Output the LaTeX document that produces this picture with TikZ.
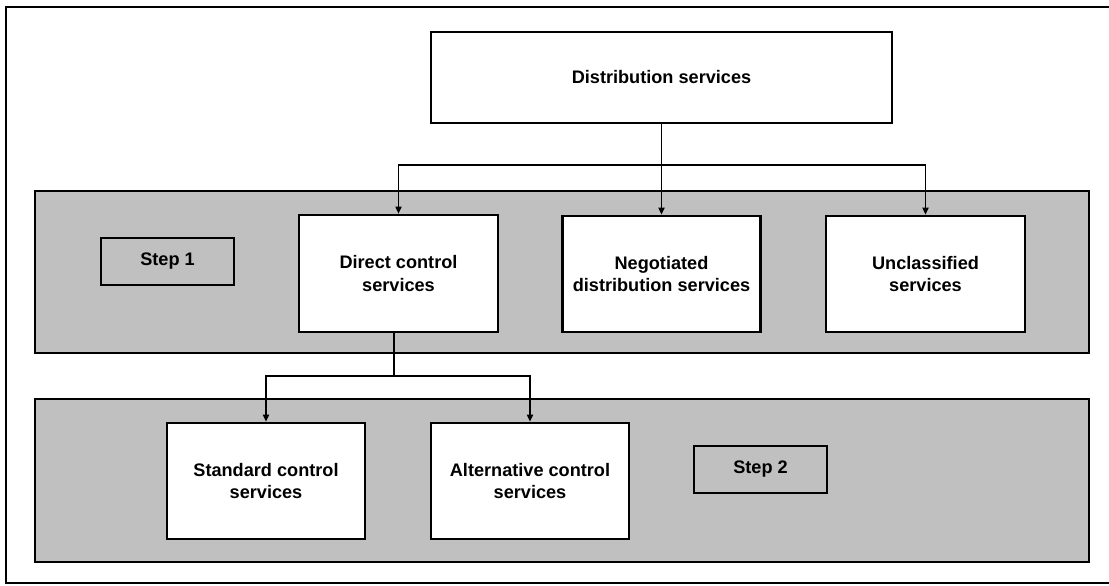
\documentclass[tikz,border=0pt]{standalone}
\usepackage{fontspec}
\setmainfont{Liberation Sans}
\usetikzlibrary{arrows.meta}
\definecolor{panelgray}{HTML}{C0C0C0}

\tikzset{
  box/.style={draw, fill=white, line width=2pt, align=center, inner sep=0pt,
    font=\fontsize{12.9}{16.3}\selectfont\bfseries},
  stepbox/.style={box, fill=panelgray, minimum width=3.325cm, minimum height=1.175cm},
  panel/.style={draw, fill=panelgray, line width=1.4pt},
  link/.style={line width=0.8pt},
  arr/.style={link, -{Triangle[length=5pt,width=4.5pt]}}
}

\begin{document}
\begin{tikzpicture}[x=0.025cm, y=-0.025cm]
  \useasboundingbox (0,0) rectangle (1109,585);
  % frame and grey panels
  \draw[line width=2pt] (1109,7) -- (6,7) -- (6,583) -- (1109,583);
  \draw[panel] (35,191) rectangle (1089,353);
  \draw[panel] (35,399) rectangle (1089,562);

  \node[box, minimum width=11.525cm, minimum height=2.275cm] (dist) at (661.5,77.5) {Distribution services};

  \node[stepbox] (step1) at (167.5,261.5) {Step 1};
  \node[box, minimum width=4.975cm, minimum height=2.925cm] (direct) at (398.5,273.5) {Direct control\\services};
  \node[box, minimum width=4.95cm, minimum height=2.9cm] (negot) at (661.5,274) {Negotiated\\distribution services};
  \node[box, minimum width=4.975cm, minimum height=2.9cm] (unclass) at (925.5,274) {Unclassified\\services};

  \node[box, minimum width=4.95cm, minimum height=2.9cm] (standard) at (266,481) {Standard control\\services};
  \node[box, minimum width=4.95cm, minimum height=2.9cm] (altern) at (530,481) {Alternative control\\services};
  \node[stepbox] (step2) at (760.5,469.5) {Step 2};

  % Draw the connectors
  \coordinate (hub1) at (dist.south |- 0,165);
  \coordinate (hub2) at (394,376);
  \draw[link] (dist.south) -- (hub1);
  \draw[arr] (hub1) -| (direct.north);
  \draw[arr] (hub1) -- (hub1 |- negot.north);
  \draw[arr] (hub1) -| (unclass.north);
  \draw[link] (hub2 |- direct.south) -- (hub2);
  \draw[arr] (hub2) -| (standard.north);
  \draw[arr] (hub2) -| (altern.north);
\end{tikzpicture}
\end{document}
